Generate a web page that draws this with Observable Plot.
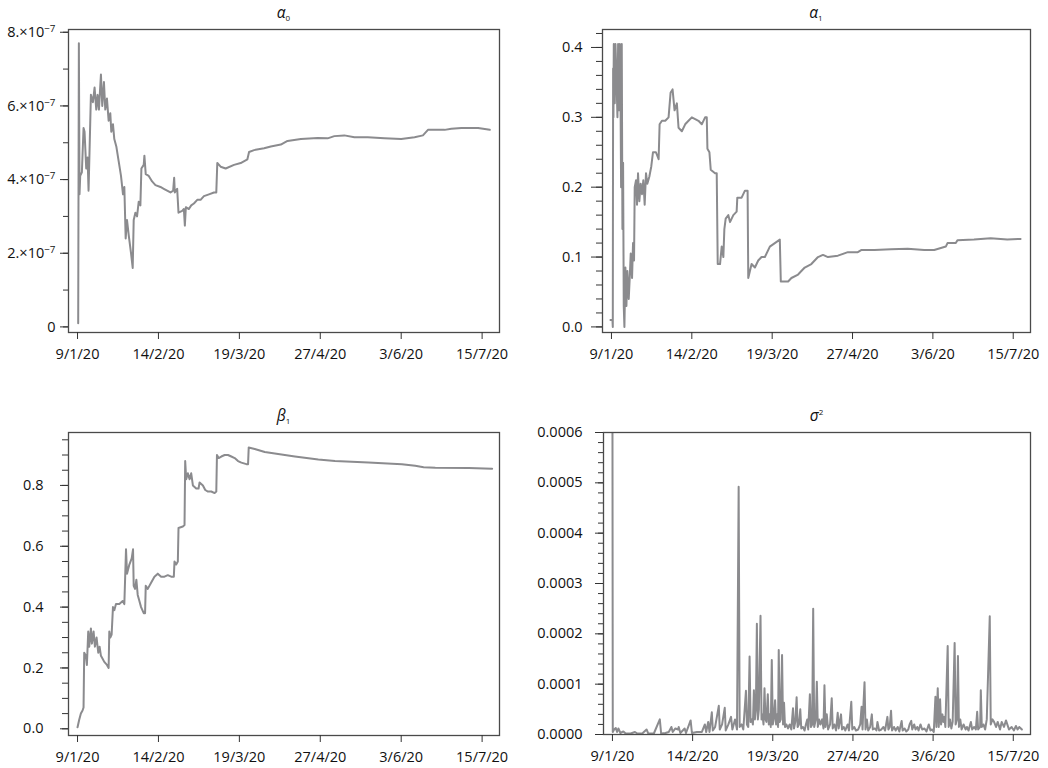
<!DOCTYPE html>
<html><head><meta charset="utf-8">
<script src="https://cdn.jsdelivr.net/npm/d3@7"></script>
<script src="https://cdn.jsdelivr.net/npm/@observablehq/plot@0.6"></script>
<style>
body{margin:0;background:#fff;}
#grid{position:relative;width:1048px;height:768px;}
#grid svg{position:absolute;}
</style></head><body><div id="grid"></div>
<script>
// x = observation index; tick labels are the dates at those observations
const xTickValues = [0, 242, 484, 726, 968, 1210];
const xTickLabels = ["9/1/20","14/2/20","19/3/20","27/4/20","3/6/20","15/7/20"];

// alpha_0 (values in units of 1e-7)
const alpha0 = [[2,0.1],[4,7.7],[6,3.6],[8,4.1],[13,4.2],[18,5.4],[21,5.3],[26,4.3],[30,4.6],[33,3.7],
[36,4.8],[40,6.3],[46,6.1],[51,6.5],[56,5.9],[60,6.3],[64,5.9],[70,6.85],[74,6.0],[79,6.65],
[83,5.9],[88,6.2],[93,5.6],[98,5.8],[101,5.3],[106,5.5],[110,5.1],[116,4.9],[123,4.5],[130,4.1],
[136,3.6],[140,3.8],[144,2.4],[148,2.9],[153,2.5],[160,2.0],[165,1.6],[168,2.9],[173,3.1],[178,3.0],
[183,3.4],[188,3.3],[191,4.3],[198,4.4],[200,4.65],[204,4.15],[213,4.1],[223,3.95],[233,3.85],[248,3.8],
[258,3.75],[278,3.65],[286,3.7],[289,4.05],[291,3.65],[298,3.75],[302,3.1],[313,3.15],[318,3.2],[321,2.75],
[324,3.25],[333,3.2],[340,3.3],[348,3.35],[358,3.45],[368,3.45],[378,3.55],[393,3.6],[408,3.65],[415,3.65],
[418,4.45],[428,4.35],[443,4.3],[468,4.4],[488,4.45],[508,4.55],[513,4.75],[528,4.8],[558,4.85],[578,4.9],
[608,4.95],[628,5.05],[668,5.1],[718,5.13],[748,5.12],[768,5.18],[798,5.2],[828,5.15],[868,5.15],[918,5.12],
[968,5.1],[1008,5.15],[1033,5.2],[1048,5.35],[1098,5.35],[1118,5.38],[1148,5.4],[1198,5.4],[1233,5.35]];

// alpha_1
const alpha1 = [[-3,0.01],[3,0.01],[4,0.0],[5,0.37],[6,0.30],[7,0.405],[10,0.32],[12,0.405],[15,0.36],[18,0.3],
[20,0.405],[23,0.31],[25,0.405],[27,0.35],[29,0.2],[31,0.405],[33,0.14],[35,0.235],[37,0.03],[39,0.0],
[42,0.085],[45,0.03],[48,0.08],[52,0.04],[55,0.07],[58,0.105],[62,0.07],[65,0.12],[68,0.095],[70,0.2],
[74,0.21],[77,0.175],[80,0.22],[84,0.18],[88,0.205],[92,0.19],[96,0.21],[100,0.175],[104,0.22],[108,0.205],
[114,0.215],[120,0.23],[125,0.25],[134,0.25],[142,0.24],[145,0.29],[152,0.295],[162,0.295],[172,0.3],[178,0.335],
[184,0.34],[190,0.31],[197,0.32],[202,0.285],[212,0.28],[222,0.29],[232,0.295],[242,0.3],[262,0.295],[272,0.29],
[282,0.3],[287,0.3],[289,0.255],[295,0.25],[299,0.225],[312,0.22],[317,0.22],[320,0.09],[327,0.09],[332,0.115],
[337,0.1],[340,0.14],[344,0.155],[352,0.16],[357,0.15],[367,0.16],[377,0.165],[379,0.185],[392,0.185],[402,0.195],
[410,0.195],[412,0.07],[417,0.08],[422,0.09],[432,0.085],[442,0.095],[452,0.1],[462,0.1],[477,0.115],[492,0.12],
[507,0.125],[510,0.065],[532,0.065],[542,0.07],[562,0.075],[582,0.085],[602,0.09],[622,0.1],[637,0.103],[652,0.1],
[682,0.102],[712,0.107],[742,0.107],[752,0.11],[792,0.11],[842,0.111],[892,0.112],[942,0.11],[972,0.11],[1007,0.115],
[1012,0.12],[1037,0.12],[1042,0.124],[1092,0.125],[1142,0.127],[1192,0.125],[1232,0.126]];

// beta_1
const beta1 = [[0,0.005],[5,0.03],[10,0.05],[15,0.06],[18,0.07],[20,0.25],[25,0.24],[28,0.21],[32,0.32],[35,0.27],
[40,0.33],[43,0.28],[48,0.32],[52,0.27],[57,0.3],[62,0.25],[66,0.27],[70,0.24],[75,0.23],[80,0.22],
[88,0.21],[93,0.2],[95,0.32],[98,0.3],[102,0.31],[106,0.4],[110,0.39],[115,0.41],[125,0.41],[135,0.42],
[140,0.41],[145,0.59],[148,0.51],[155,0.54],[162,0.56],[166,0.59],[168,0.47],[172,0.46],[176,0.49],[180,0.44],
[185,0.42],[190,0.4],[198,0.38],[202,0.38],[204,0.47],[210,0.46],[220,0.48],[230,0.5],[240,0.51],[250,0.5],
[260,0.5],[270,0.505],[280,0.5],[288,0.5],[290,0.55],[295,0.54],[300,0.55],[302,0.66],[315,0.665],[320,0.67],
[322,0.88],[325,0.82],[330,0.84],[335,0.82],[340,0.84],[345,0.8],[355,0.79],[362,0.79],[365,0.81],[375,0.8],
[382,0.785],[390,0.78],[400,0.78],[410,0.775],[415,0.78],[417,0.9],[422,0.89],[430,0.895],[440,0.9],[450,0.9],
[460,0.895],[470,0.89],[480,0.88],[490,0.875],[505,0.87],[510,0.87],[512,0.925],[530,0.92],[560,0.91],[590,0.905],
[620,0.9],[650,0.895],[720,0.885],[770,0.88],[870,0.875],[970,0.87],[1010,0.865],[1035,0.86],[1070,0.858],[1170,0.857],
[1240,0.855]];

// sigma^2 (values in units of 1e-4)
const sigma2 = [[0,6.5],[1,0.05],[5,0.1],[10,0.13],[14,0.05],[18,0.12],[24,0.03],[33,0.06],[40,0.02],[55,0.02],
[68,0.05],[75,0.02],[90,0.02],[103,0.1],[108,0.02],[125,0.02],[143,0.3],[147,0.02],[160,0.03],[170,0.05],
[178,0.15],[182,0.05],[190,0.12],[198,0.1],[200,0.15],[205,0.03],[218,0.12],[222,0.03],[236,0.28],[240,0.03],
[255,0.05],[270,0.05],[279,0.2],[283,0.05],[289,0.25],[293,0.05],[300,0.44],[303,0.08],[310,0.15],[321,0.57],
[324,0.1],[331,0.2],[339,0.53],[342,0.08],[350,0.2],[358,0.35],[362,0.1],[370,0.3],[376,0.1],[381,4.92],
[384,0.15],[390,0.2],[395,0.1],[403,0.87],[406,0.2],[410,0.15],[414,1.55],[417,0.25],[421,0.3],[424,0.2],
[427,0.88],[430,0.3],[433,0.5],[436,2.2],[439,0.3],[442,0.5],[447,2.36],[450,0.3],[453,0.4],[456,0.2],
[459,0.92],[462,0.3],[465,0.25],[469,0.8],[472,0.2],[475,0.4],[478,0.15],[481,1.48],[484,0.2],[487,0.3],
[491,0.68],[494,0.2],[497,0.4],[500,0.15],[502,1.68],[505,0.25],[508,0.3],[512,1.58],[515,0.2],[518,0.63],
[521,0.15],[525,0.2],[530,0.12],[535,0.2],[540,0.1],[545,0.52],[548,0.12],[552,0.25],[556,0.74],[559,0.15],
[563,0.2],[567,0.5],[570,0.12],[575,0.15],[580,0.08],[584,0.2],[588,0.3],[591,0.1],[596,0.8],[599,0.15],
[603,0.2],[606,2.5],[609,0.15],[614,0.3],[617,1.05],[620,0.15],[624,0.3],[628,0.2],[633,0.3],[637,0.12],
[640,0.98],[643,0.15],[647,0.4],[651,0.1],[657,0.2],[662,0.72],[665,0.12],[670,0.2],[675,0.08],[680,0.43],
[683,0.12],[690,0.4],[693,0.1],[698,0.15],[703,0.08],[710,0.2],[714,0.08],[721,0.65],[724,0.1],[730,0.15],
[735,0.08],[742,0.1],[748,0.2],[752,0.55],[755,0.1],[758,0.63],[761,1.04],[764,0.1],[768,0.3],[772,0.08],
[778,0.15],[783,0.4],[786,0.1],[792,0.12],[797,0.08],[800,0.25],[805,0.08],[812,0.1],[818,0.15],[823,0.08],
[830,0.35],[833,0.1],[837,0.15],[841,0.47],[844,0.08],[850,0.15],[855,0.08],[861,0.15],[866,0.06],[873,0.27],
[876,0.08],[882,0.12],[887,0.06],[893,0.1],[897,0.2],[902,0.27],[905,0.1],[911,0.2],[915,0.1],[920,0.15],
[924,0.08],[930,0.2],[935,0.1],[942,0.12],[948,0.06],[955,0.2],[960,0.08],[965,0.1],[970,0.05],[975,0.75],
[978,0.15],[982,0.92],[985,0.15],[989,0.7],[992,0.2],[996,0.4],[999,0.25],[1002,0.35],[1005,0.15],[1012,1.76],
[1015,0.15],[1019,0.3],[1023,0.12],[1027,0.25],[1033,1.82],[1036,0.2],[1040,0.3],[1043,1.56],[1046,0.15],[1050,0.3],
[1054,0.1],[1060,0.2],[1066,0.1],[1070,0.15],[1075,0.08],[1082,0.25],[1086,0.1],[1092,0.15],[1097,0.1],[1101,0.45],
[1104,0.1],[1110,0.15],[1112,0.88],[1115,0.15],[1120,0.2],[1125,0.1],[1130,0.3],[1139,2.35],[1142,0.2],[1147,0.3],
[1152,0.25],[1158,0.15],[1163,0.25],[1170,0.1],[1175,0.25],[1182,0.15],[1188,0.28],[1192,0.2],[1197,0.1],[1205,0.15],
[1212,0.08],[1218,0.17],[1223,0.1],[1228,0.15],[1233,0.12],[1236,0.1]];

// y tick labels
const yTicksA0 = [0, 2e-7, 4e-7, 6e-7, 8e-7];
const yLabelsA0 = ["0", "2.×10^−7", "4.×10^−7", "6.×10^−7", "8.×10^−7"];
const yTicksA1 = [0, 0.1, 0.2, 0.3, 0.4];
const yLabelsA1 = ["0.0", "0.1", "0.2", "0.3", "0.4"];
const yTicksB1 = [0, 0.2, 0.4, 0.6, 0.8];
const yLabelsB1 = ["0.0", "0.2", "0.4", "0.6", "0.8"];
const yTicksS2 = [0, 0.0001, 0.0002, 0.0003, 0.0004, 0.0005, 0.0006];
const yLabelsS2 = ["0.0000", "0.0001", "0.0002", "0.0003", "0.0004", "0.0005", "0.0006"];

const W = 524, H = 384;
const panels = [
  {data: alpha0.map(([x, v]) => ({x, y: v * 1e-7})), left: 0, top: 0,
   mL: 68, mR: 25, mT: 29, mB: 52, yDomain: [-0.152e-7, 8.075e-7],
   yMajor: yTicksA0, yLabels: yLabelsA0, yMinor: d3.range(0, 9).map(i => i * 1e-7),
   major: 8, minor: 5, pad: 5, title: "α", sub: "0"},
  {data: alpha1.map(([x, v]) => ({x, y: v})), left: 524, top: 0,
   mL: 78, mR: 18, mT: 29, mB: 52, yDomain: [-0.008, 0.4257],
   yMajor: yTicksA1, yLabels: yLabelsA1, yMinor: d3.range(0, 22).map(i => i * 0.02),
   major: 11, minor: 6, pad: 9, title: "α", sub: "1"},
  {data: beta1.map(([x, v]) => ({x, y: v})), left: 0, top: 384,
   mL: 68, mR: 25, mT: 48, mB: 33, yDomain: [-0.022, 0.974],
   yMajor: yTicksB1, yLabels: yLabelsB1, yMinor: d3.range(0, 20).map(i => i * 0.05),
   major: 8, minor: 6, pad: 17, title: "β", sub: "1"},
  {data: sigma2.map(([x, v]) => ({x, y: v * 1e-4})), left: 524, top: 384,
   mL: 79, mR: 18, mT: 48, mB: 34, yDomain: [0, 0.0006],
   yMajor: yTicksS2, yLabels: yLabelsS2, yMinor: d3.range(0, 31).map(i => i * 0.00002),
   major: 8, minor: 5, pad: 13, title: "σ", sup: "2"}
];

const xLabelMap = new Map(xTickValues.map((t, i) => [t, xTickLabels[i]]));
const grid = document.getElementById("grid");

for (const p of panels) {
  const yMap = new Map(p.yMajor.map((t, i) => [t, p.yLabels[i]]));
  const svg = Plot.plot({
    width: W, height: H,
    marginLeft: p.mL, marginRight: p.mR, marginTop: p.mT, marginBottom: p.mB,
    style: {fontFamily: "'Open Sans', sans-serif", fontSize: "14.5px", color: "#111", background: "white", overflow: "visible"},
    x: {domain: [-27, 1262]},
    y: {domain: p.yDomain},
    marks: [
      Plot.line(p.data, {x: "x", y: "y", stroke: "#8b8b8e", strokeWidth: 2, clip: true}),
      Plot.frame({stroke: "#4a4a4a", strokeWidth: 1.3}),
      Plot.axisY({ticks: p.yMinor, tickSize: p.minor, tickFormat: () => "", label: null, stroke: "#333"}),
      Plot.axisY({ticks: p.yMajor, tickSize: p.major, tickPadding: p.pad, tickFormat: d => yMap.get(d), label: null, stroke: "#333", fill: "#111"}),
      Plot.axisX({ticks: xTickValues, tickSize: 7, tickPadding: 9, tickFormat: d => xLabelMap.get(d), label: null, stroke: "#333", fill: "#111"})
    ]
  });
  svg.style.left = p.left + "px";
  svg.style.top = p.top + "px";
  // superscripts in tick labels
  svg.querySelectorAll("text").forEach(t => {
    const s = t.textContent;
    if (s.includes("^") && t.children.length === 0) {
      const [base, sup] = s.split("^");
      t.textContent = base;
      const ts = document.createElementNS("http://www.w3.org/2000/svg", "tspan");
      ts.setAttribute("dy", "-0.5em");
      ts.setAttribute("font-size", "0.68em");
      ts.textContent = sup;
      t.appendChild(ts);
    }
  });
  // panel title
  const cx = p.mL + (W - p.mL - p.mR) / 2;
  const title = d3.select(svg).append("text")
    .attr("x", cx).attr("y", p.mT - 11)
    .attr("text-anchor", "middle")
    .attr("font-family", "'Open Sans', sans-serif")
    .attr("font-size", 15.5).attr("font-style", "italic").attr("fill", "#111");
  title.append("tspan").text(p.title);
  if (p.sub) title.append("tspan").attr("font-size", 8).attr("font-style", "normal").attr("dy", 3).text(p.sub);
  if (p.sup) title.append("tspan").attr("font-size", 8).attr("font-style", "normal").attr("dy", -6).text(p.sup);
  grid.appendChild(svg);
}
</script></body></html>
